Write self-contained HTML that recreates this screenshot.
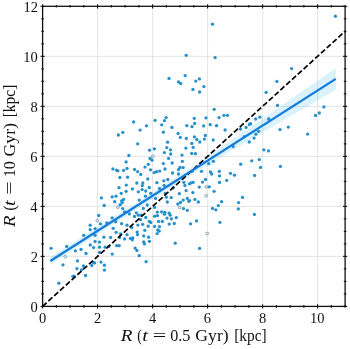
<!DOCTYPE html>
<html><head><meta charset="utf-8"><style>
html,body{margin:0;padding:0;background:#fff;}
body{width:350px;height:349px;overflow:hidden;}
svg{display:block;}
</style></head><body>
<svg width="350" height="349" viewBox="0 0 350 349">
<defs><filter id="gs" x="0" y="0" width="350" height="349" filterUnits="userSpaceOnUse"><feColorMatrix type="saturate" values="0"/></filter></defs>
<rect width="350" height="349" fill="#fff"/>
<g stroke="#bdbdbd" stroke-width="0.8" stroke-dasharray="1 1"><line x1="97.60" y1="6.3" x2="97.60" y2="306.4"/><line x1="152.60" y1="6.3" x2="152.60" y2="306.4"/><line x1="207.60" y1="6.3" x2="207.60" y2="306.4"/><line x1="262.60" y1="6.3" x2="262.60" y2="306.4"/><line x1="317.60" y1="6.3" x2="317.60" y2="306.4"/><line x1="42.6" y1="256.38" x2="345.1" y2="256.38"/><line x1="42.6" y1="206.37" x2="345.1" y2="206.37"/><line x1="42.6" y1="156.35" x2="345.1" y2="156.35"/><line x1="42.6" y1="106.33" x2="345.1" y2="106.33"/><line x1="42.6" y1="56.32" x2="345.1" y2="56.32"/></g>
<polygon points="50.3,257.0 57.4,252.5 64.6,248.0 71.7,243.5 78.8,239.0 86.0,234.5 93.1,230.0 100.3,225.5 107.4,221.0 114.5,216.4 121.7,211.9 128.8,207.4 135.9,202.9 143.1,198.3 150.2,193.8 157.4,189.2 164.5,184.7 171.6,180.1 178.8,175.5 185.9,170.8 193.1,166.1 200.2,161.4 207.3,156.6 214.5,151.8 221.6,146.9 228.7,142.0 235.9,137.2 243.0,132.3 250.1,127.4 257.3,122.4 264.4,117.5 271.6,112.6 278.7,107.6 285.8,102.7 293.0,97.8 300.1,92.8 307.2,87.8 314.4,82.9 321.5,77.9 328.7,73.0 335.8,68.0 335.8,89.8 328.7,93.9 321.5,98.1 314.4,102.2 307.2,106.4 300.1,110.5 293.0,114.7 285.8,118.8 278.7,123.0 271.6,127.2 264.4,131.3 257.3,135.5 250.1,139.7 243.0,143.9 235.9,148.1 228.7,152.3 221.6,156.6 214.5,160.8 207.3,165.1 200.2,169.4 193.1,173.8 185.9,178.2 178.8,182.6 171.6,187.1 164.5,191.6 157.4,196.2 150.2,200.7 143.1,205.3 135.9,209.9 128.8,214.4 121.7,219.0 114.5,223.6 107.4,228.2 100.3,232.8 93.1,237.4 86.0,242.0 78.8,246.6 71.7,251.2 64.6,255.8 57.4,260.4 50.3,265.0" fill="#00aae6" fill-opacity="0.15"/>
<g fill="#2590cc"><circle cx="212.5" cy="24.2" r="1.65"/><circle cx="186.2" cy="55.3" r="1.65"/><circle cx="215.1" cy="57.6" r="1.65"/><circle cx="335.4" cy="16.2" r="1.65"/><circle cx="169.0" cy="78.4" r="1.65"/><circle cx="185.2" cy="75.6" r="1.65"/><circle cx="178.5" cy="82.0" r="1.65"/><circle cx="180.7" cy="83.5" r="1.65"/><circle cx="195.8" cy="81.1" r="1.65"/><circle cx="199.4" cy="78.9" r="1.65"/><circle cx="203.9" cy="86.6" r="1.65"/><circle cx="192.9" cy="89.4" r="1.65"/><circle cx="199.6" cy="92.0" r="1.65"/><circle cx="214.2" cy="109.3" r="1.65"/><circle cx="219.0" cy="117.6" r="1.65"/><circle cx="194.3" cy="118.3" r="1.65"/><circle cx="194.7" cy="123.5" r="1.65"/><circle cx="206.0" cy="117.9" r="1.65"/><circle cx="166.1" cy="117.6" r="1.65"/><circle cx="164.4" cy="120.7" r="1.65"/><circle cx="133.6" cy="121.9" r="1.65"/><circle cx="155.1" cy="120.3" r="1.65"/><circle cx="276.9" cy="81.4" r="1.65"/><circle cx="266.1" cy="92.4" r="1.65"/><circle cx="277.5" cy="105.4" r="1.65"/><circle cx="223.9" cy="115.3" r="1.65"/><circle cx="227.4" cy="115.3" r="1.65"/><circle cx="259.9" cy="117.2" r="1.65"/><circle cx="255.7" cy="119.0" r="1.65"/><circle cx="268.7" cy="119.0" r="1.65"/><circle cx="250.6" cy="123.7" r="1.65"/><circle cx="249.4" cy="124.5" r="1.65"/><circle cx="291.6" cy="68.6" r="1.65"/><circle cx="323.9" cy="106.9" r="1.65"/><circle cx="319.3" cy="113.0" r="1.65"/><circle cx="315.5" cy="115.5" r="1.65"/><circle cx="288.3" cy="127.1" r="1.65"/><circle cx="146.5" cy="125.8" r="1.65"/><circle cx="161.7" cy="124.8" r="1.65"/><circle cx="140.1" cy="130.1" r="1.65"/><circle cx="122.8" cy="132.3" r="1.65"/><circle cx="118.4" cy="135.0" r="1.65"/><circle cx="163.4" cy="132.2" r="1.65"/><circle cx="137.7" cy="143.8" r="1.65"/><circle cx="149.6" cy="150.2" r="1.65"/><circle cx="154.4" cy="148.8" r="1.65"/><circle cx="164.4" cy="152.6" r="1.65"/><circle cx="128.9" cy="155.5" r="1.65"/><circle cx="150.1" cy="158.5" r="1.65"/><circle cx="152.0" cy="160.2" r="1.65"/><circle cx="126.1" cy="162.0" r="1.65"/><circle cx="148.3" cy="164.3" r="1.65"/><circle cx="163.4" cy="163.6" r="1.65"/><circle cx="145.0" cy="167.1" r="1.65"/><circle cx="112.9" cy="168.9" r="1.65"/><circle cx="116.6" cy="170.2" r="1.65"/><circle cx="117.9" cy="170.8" r="1.65"/><circle cx="123.6" cy="170.4" r="1.65"/><circle cx="127.0" cy="168.4" r="1.65"/><circle cx="134.6" cy="169.5" r="1.65"/><circle cx="137.7" cy="171.7" r="1.65"/><circle cx="140.8" cy="174.4" r="1.65"/><circle cx="150.5" cy="169.8" r="1.65"/><circle cx="154.2" cy="172.6" r="1.65"/><circle cx="156.6" cy="171.7" r="1.65"/><circle cx="159.7" cy="171.1" r="1.65"/><circle cx="165.0" cy="169.0" r="1.65"/><circle cx="119.9" cy="177.5" r="1.65"/><circle cx="127.6" cy="177.2" r="1.65"/><circle cx="147.8" cy="179.0" r="1.65"/><circle cx="136.8" cy="183.0" r="1.65"/><circle cx="142.8" cy="183.0" r="1.65"/><circle cx="142.3" cy="185.6" r="1.65"/><circle cx="126.3" cy="185.1" r="1.65"/><circle cx="156.9" cy="182.7" r="1.65"/><circle cx="163.8" cy="180.8" r="1.65"/><circle cx="164.1" cy="185.3" r="1.65"/><circle cx="119.0" cy="187.7" r="1.65"/><circle cx="149.2" cy="187.5" r="1.65"/><circle cx="171.9" cy="127.4" r="1.65"/><circle cx="186.8" cy="125.7" r="1.65"/><circle cx="192.0" cy="126.7" r="1.65"/><circle cx="178.1" cy="133.5" r="1.65"/><circle cx="180.3" cy="137.4" r="1.65"/><circle cx="186.3" cy="138.4" r="1.65"/><circle cx="167.6" cy="142.2" r="1.65"/><circle cx="166.8" cy="147.6" r="1.65"/><circle cx="170.5" cy="149.8" r="1.65"/><circle cx="185.9" cy="148.1" r="1.65"/><circle cx="170.7" cy="154.0" r="1.65"/><circle cx="182.0" cy="155.1" r="1.65"/><circle cx="191.7" cy="153.4" r="1.65"/><circle cx="203.7" cy="125.9" r="1.65"/><circle cx="210.2" cy="124.7" r="1.65"/><circle cx="216.5" cy="125.7" r="1.65"/><circle cx="194.4" cy="136.8" r="1.65"/><circle cx="196.8" cy="139.5" r="1.65"/><circle cx="199.8" cy="142.0" r="1.65"/><circle cx="205.4" cy="135.5" r="1.65"/><circle cx="204.4" cy="139.1" r="1.65"/><circle cx="213.2" cy="140.0" r="1.65"/><circle cx="191.8" cy="143.4" r="1.65"/><circle cx="193.1" cy="147.3" r="1.65"/><circle cx="195.4" cy="153.7" r="1.65"/><circle cx="168.6" cy="158.4" r="1.65"/><circle cx="182.4" cy="161.3" r="1.65"/><circle cx="172.2" cy="163.0" r="1.65"/><circle cx="178.5" cy="169.6" r="1.65"/><circle cx="180.0" cy="167.5" r="1.65"/><circle cx="183.2" cy="167.6" r="1.65"/><circle cx="172.5" cy="173.0" r="1.65"/><circle cx="178.5" cy="174.0" r="1.65"/><circle cx="167.8" cy="179.5" r="1.65"/><circle cx="183.9" cy="182.3" r="1.65"/><circle cx="184.9" cy="185.4" r="1.65"/><circle cx="189.4" cy="183.8" r="1.65"/><circle cx="191.2" cy="182.8" r="1.65"/><circle cx="193.2" cy="182.3" r="1.65"/><circle cx="213.4" cy="161.3" r="1.65"/><circle cx="208.7" cy="163.7" r="1.65"/><circle cx="201.5" cy="171.3" r="1.65"/><circle cx="210.5" cy="172.0" r="1.65"/><circle cx="211.7" cy="174.0" r="1.65"/><circle cx="219.3" cy="171.3" r="1.65"/><circle cx="219.5" cy="175.9" r="1.65"/><circle cx="205.6" cy="179.5" r="1.65"/><circle cx="202.5" cy="182.1" r="1.65"/><circle cx="219.5" cy="182.5" r="1.65"/><circle cx="199.3" cy="187.1" r="1.65"/><circle cx="209.2" cy="186.8" r="1.65"/><circle cx="192.0" cy="171.3" r="1.65"/><circle cx="225.1" cy="130.0" r="1.65"/><circle cx="240.5" cy="129.0" r="1.65"/><circle cx="246.1" cy="127.4" r="1.65"/><circle cx="249.3" cy="142.0" r="1.65"/><circle cx="254.1" cy="138.1" r="1.65"/><circle cx="233.2" cy="146.6" r="1.65"/><circle cx="244.4" cy="136.6" r="1.65"/><circle cx="258.6" cy="131.3" r="1.65"/><circle cx="255.9" cy="134.2" r="1.65"/><circle cx="280.0" cy="129.6" r="1.65"/><circle cx="263.9" cy="149.8" r="1.65"/><circle cx="268.5" cy="150.9" r="1.65"/><circle cx="307.6" cy="134.1" r="1.65"/><circle cx="251.7" cy="160.8" r="1.65"/><circle cx="240.7" cy="164.2" r="1.65"/><circle cx="230.5" cy="173.3" r="1.65"/><circle cx="234.5" cy="175.2" r="1.65"/><circle cx="226.7" cy="180.3" r="1.65"/><circle cx="254.6" cy="175.4" r="1.65"/><circle cx="259.3" cy="159.6" r="1.65"/><circle cx="260.5" cy="167.4" r="1.65"/><circle cx="280.4" cy="166.4" r="1.65"/><circle cx="66.7" cy="246.4" r="1.65"/><circle cx="101.4" cy="197.9" r="1.65"/><circle cx="112.2" cy="196.8" r="1.65"/><circle cx="104.2" cy="205.5" r="1.65"/><circle cx="98.7" cy="215.5" r="1.65"/><circle cx="90.2" cy="225.2" r="1.65"/><circle cx="100.5" cy="223.8" r="1.65"/><circle cx="112.1" cy="217.8" r="1.65"/><circle cx="106.8" cy="222.8" r="1.65"/><circle cx="90.2" cy="229.6" r="1.65"/><circle cx="95.1" cy="228.7" r="1.65"/><circle cx="113.2" cy="228.3" r="1.65"/><circle cx="83.7" cy="235.3" r="1.65"/><circle cx="95.1" cy="235.3" r="1.65"/><circle cx="103.9" cy="237.2" r="1.65"/><circle cx="110.6" cy="237.4" r="1.65"/><circle cx="95.1" cy="241.4" r="1.65"/><circle cx="99.5" cy="242.1" r="1.65"/><circle cx="90.2" cy="245.0" r="1.65"/><circle cx="93.6" cy="247.6" r="1.65"/><circle cx="99.5" cy="247.2" r="1.65"/><circle cx="105.1" cy="247.2" r="1.65"/><circle cx="108.7" cy="246.6" r="1.65"/><circle cx="81.0" cy="249.4" r="1.65"/><circle cx="99.5" cy="252.3" r="1.65"/><circle cx="86.0" cy="253.5" r="1.65"/><circle cx="112.2" cy="254.1" r="1.65"/><circle cx="132.4" cy="188.9" r="1.65"/><circle cx="142.1" cy="189.6" r="1.65"/><circle cx="126.1" cy="191.3" r="1.65"/><circle cx="121.2" cy="193.3" r="1.65"/><circle cx="138.3" cy="191.8" r="1.65"/><circle cx="116.0" cy="196.2" r="1.65"/><circle cx="123.6" cy="199.4" r="1.65"/><circle cx="121.7" cy="200.8" r="1.65"/><circle cx="114.7" cy="201.7" r="1.65"/><circle cx="122.2" cy="202.5" r="1.65"/><circle cx="139.2" cy="200.1" r="1.65"/><circle cx="120.2" cy="204.7" r="1.65"/><circle cx="122.7" cy="208.6" r="1.65"/><circle cx="129.4" cy="213.9" r="1.65"/><circle cx="124.6" cy="211.8" r="1.65"/><circle cx="136.3" cy="212.8" r="1.65"/><circle cx="138.3" cy="215.2" r="1.65"/><circle cx="143.3" cy="208.4" r="1.65"/><circle cx="145.7" cy="191.0" r="1.65"/><circle cx="150.7" cy="193.3" r="1.65"/><circle cx="159.5" cy="188.4" r="1.65"/><circle cx="145.4" cy="196.2" r="1.65"/><circle cx="155.6" cy="198.4" r="1.65"/><circle cx="165.3" cy="193.3" r="1.65"/><circle cx="166.3" cy="197.2" r="1.65"/><circle cx="171.2" cy="197.6" r="1.65"/><circle cx="167.3" cy="202.0" r="1.65"/><circle cx="147.3" cy="205.0" r="1.65"/><circle cx="154.6" cy="207.4" r="1.65"/><circle cx="157.3" cy="212.1" r="1.65"/><circle cx="161.6" cy="211.8" r="1.65"/><circle cx="164.9" cy="212.3" r="1.65"/><circle cx="164.4" cy="214.2" r="1.65"/><circle cx="169.2" cy="213.2" r="1.65"/><circle cx="170.2" cy="215.2" r="1.65"/><circle cx="157.5" cy="215.7" r="1.65"/><circle cx="154.6" cy="216.2" r="1.65"/><circle cx="141.0" cy="215.2" r="1.65"/><circle cx="145.8" cy="217.5" r="1.65"/><circle cx="173.1" cy="187.9" r="1.65"/><circle cx="186.1" cy="190.6" r="1.65"/><circle cx="192.9" cy="192.6" r="1.65"/><circle cx="179.3" cy="193.7" r="1.65"/><circle cx="187.3" cy="198.4" r="1.65"/><circle cx="189.5" cy="200.6" r="1.65"/><circle cx="188.8" cy="201.3" r="1.65"/><circle cx="194.9" cy="199.4" r="1.65"/><circle cx="198.3" cy="202.0" r="1.65"/><circle cx="183.2" cy="200.1" r="1.65"/><circle cx="180.5" cy="202.5" r="1.65"/><circle cx="177.8" cy="204.0" r="1.65"/><circle cx="183.5" cy="208.6" r="1.65"/><circle cx="187.3" cy="210.3" r="1.65"/><circle cx="176.3" cy="217.6" r="1.65"/><circle cx="214.1" cy="191.3" r="1.65"/><circle cx="221.6" cy="201.7" r="1.65"/><circle cx="218.3" cy="205.6" r="1.65"/><circle cx="212.5" cy="208.4" r="1.65"/><circle cx="215.8" cy="209.8" r="1.65"/><circle cx="242.5" cy="197.4" r="1.65"/><circle cx="238.6" cy="202.6" r="1.65"/><circle cx="238.3" cy="208.9" r="1.65"/><circle cx="254.4" cy="214.4" r="1.65"/><circle cx="171.4" cy="218.8" r="1.65"/><circle cx="174.3" cy="223.5" r="1.65"/><circle cx="190.6" cy="223.8" r="1.65"/><circle cx="196.6" cy="220.9" r="1.65"/><circle cx="219.9" cy="222.3" r="1.65"/><circle cx="175.2" cy="243.2" r="1.65"/><circle cx="199.6" cy="248.4" r="1.65"/><circle cx="167.0" cy="218.1" r="1.65"/><circle cx="140.6" cy="219.7" r="1.65"/><circle cx="149.4" cy="221.4" r="1.65"/><circle cx="150.8" cy="222.5" r="1.65"/><circle cx="158.5" cy="221.4" r="1.65"/><circle cx="162.3" cy="221.4" r="1.65"/><circle cx="169.2" cy="224.1" r="1.65"/><circle cx="137.9" cy="225.1" r="1.65"/><circle cx="142.7" cy="224.3" r="1.65"/><circle cx="148.2" cy="226.2" r="1.65"/><circle cx="154.6" cy="226.4" r="1.65"/><circle cx="159.5" cy="226.6" r="1.65"/><circle cx="144.8" cy="230.3" r="1.65"/><circle cx="157.7" cy="230.0" r="1.65"/><circle cx="159.2" cy="231.0" r="1.65"/><circle cx="157.2" cy="233.6" r="1.65"/><circle cx="137.2" cy="232.1" r="1.65"/><circle cx="137.5" cy="234.6" r="1.65"/><circle cx="143.7" cy="235.9" r="1.65"/><circle cx="148.6" cy="237.2" r="1.65"/><circle cx="149.4" cy="241.3" r="1.65"/><circle cx="143.7" cy="241.9" r="1.65"/><circle cx="144.5" cy="243.9" r="1.65"/><circle cx="115.7" cy="221.8" r="1.65"/><circle cx="121.6" cy="223.7" r="1.65"/><circle cx="127.0" cy="225.2" r="1.65"/><circle cx="131.8" cy="227.6" r="1.65"/><circle cx="116.2" cy="232.3" r="1.65"/><circle cx="120.6" cy="234.0" r="1.65"/><circle cx="127.0" cy="234.7" r="1.65"/><circle cx="119.6" cy="237.4" r="1.65"/><circle cx="124.5" cy="238.9" r="1.65"/><circle cx="130.4" cy="238.4" r="1.65"/><circle cx="132.8" cy="237.9" r="1.65"/><circle cx="132.3" cy="239.8" r="1.65"/><circle cx="116.7" cy="245.7" r="1.65"/><circle cx="119.2" cy="245.7" r="1.65"/><circle cx="135.1" cy="248.1" r="1.65"/><circle cx="134.5" cy="216.5" r="1.65"/><circle cx="136.9" cy="250.5" r="1.65"/><circle cx="139.2" cy="255.7" r="1.65"/><circle cx="146.1" cy="261.7" r="1.65"/><circle cx="51.1" cy="248.3" r="1.65"/><circle cx="75.4" cy="250.8" r="1.65"/><circle cx="77.5" cy="260.9" r="1.65"/><circle cx="83.5" cy="266.0" r="1.65"/><circle cx="76.9" cy="268.6" r="1.65"/><circle cx="81.5" cy="269.8" r="1.65"/><circle cx="92.9" cy="262.3" r="1.65"/><circle cx="94.6" cy="262.9" r="1.65"/><circle cx="91.8" cy="265.5" r="1.65"/><circle cx="101.0" cy="262.1" r="1.65"/><circle cx="104.4" cy="265.2" r="1.65"/><circle cx="104.4" cy="270.1" r="1.65"/><circle cx="85.5" cy="275.5" r="1.65"/><circle cx="72.9" cy="276.3" r="1.65"/><circle cx="74.2" cy="276.1" r="1.65"/><circle cx="58.8" cy="283.2" r="1.65"/><circle cx="63.0" cy="264.9" r="1.65"/></g>
<g fill="#e2ebf0" stroke="#7e9fb6" stroke-width="0.9"><circle cx="97.3" cy="220.6" r="1.35"/><circle cx="152.8" cy="156.2" r="1.35"/><circle cx="207.2" cy="233.5" r="1.35"/><circle cx="65.3" cy="256.7" r="1.35"/><circle cx="206.3" cy="186.9" r="1.35"/><circle cx="206.3" cy="195.7" r="1.35"/><circle cx="179.7" cy="207.4" r="1.35"/><circle cx="117.9" cy="207.2" r="1.35"/></g>
<line x1="42.6" y1="306.4" x2="345.1" y2="31.31" stroke="#000" stroke-width="1.7" stroke-dasharray="5.42 2.42"/>
<line x1="50.3" y1="261.0" x2="335.8" y2="78.9" stroke="#157bd8" stroke-width="2.3" stroke-linecap="butt"/>
<rect x="42.6" y="6.3" width="302.50" height="300.10" fill="none" stroke="#111" stroke-width="1.3"/>
<g stroke="#111" stroke-width="1.1"><line x1="42.60" y1="304.29999999999995" x2="42.60" y2="308.5"/><line x1="42.60" y1="4.199999999999999" x2="42.60" y2="8.4"/><line x1="56.35" y1="305.09999999999997" x2="56.35" y2="307.7"/><line x1="56.35" y1="5.0" x2="56.35" y2="7.6"/><line x1="70.10" y1="305.09999999999997" x2="70.10" y2="307.7"/><line x1="70.10" y1="5.0" x2="70.10" y2="7.6"/><line x1="83.85" y1="305.09999999999997" x2="83.85" y2="307.7"/><line x1="83.85" y1="5.0" x2="83.85" y2="7.6"/><line x1="97.60" y1="304.29999999999995" x2="97.60" y2="308.5"/><line x1="97.60" y1="4.199999999999999" x2="97.60" y2="8.4"/><line x1="111.35" y1="305.09999999999997" x2="111.35" y2="307.7"/><line x1="111.35" y1="5.0" x2="111.35" y2="7.6"/><line x1="125.10" y1="305.09999999999997" x2="125.10" y2="307.7"/><line x1="125.10" y1="5.0" x2="125.10" y2="7.6"/><line x1="138.85" y1="305.09999999999997" x2="138.85" y2="307.7"/><line x1="138.85" y1="5.0" x2="138.85" y2="7.6"/><line x1="152.60" y1="304.29999999999995" x2="152.60" y2="308.5"/><line x1="152.60" y1="4.199999999999999" x2="152.60" y2="8.4"/><line x1="166.35" y1="305.09999999999997" x2="166.35" y2="307.7"/><line x1="166.35" y1="5.0" x2="166.35" y2="7.6"/><line x1="180.10" y1="305.09999999999997" x2="180.10" y2="307.7"/><line x1="180.10" y1="5.0" x2="180.10" y2="7.6"/><line x1="193.85" y1="305.09999999999997" x2="193.85" y2="307.7"/><line x1="193.85" y1="5.0" x2="193.85" y2="7.6"/><line x1="207.60" y1="304.29999999999995" x2="207.60" y2="308.5"/><line x1="207.60" y1="4.199999999999999" x2="207.60" y2="8.4"/><line x1="221.35" y1="305.09999999999997" x2="221.35" y2="307.7"/><line x1="221.35" y1="5.0" x2="221.35" y2="7.6"/><line x1="235.10" y1="305.09999999999997" x2="235.10" y2="307.7"/><line x1="235.10" y1="5.0" x2="235.10" y2="7.6"/><line x1="248.85" y1="305.09999999999997" x2="248.85" y2="307.7"/><line x1="248.85" y1="5.0" x2="248.85" y2="7.6"/><line x1="262.60" y1="304.29999999999995" x2="262.60" y2="308.5"/><line x1="262.60" y1="4.199999999999999" x2="262.60" y2="8.4"/><line x1="276.35" y1="305.09999999999997" x2="276.35" y2="307.7"/><line x1="276.35" y1="5.0" x2="276.35" y2="7.6"/><line x1="290.10" y1="305.09999999999997" x2="290.10" y2="307.7"/><line x1="290.10" y1="5.0" x2="290.10" y2="7.6"/><line x1="303.85" y1="305.09999999999997" x2="303.85" y2="307.7"/><line x1="303.85" y1="5.0" x2="303.85" y2="7.6"/><line x1="317.60" y1="304.29999999999995" x2="317.60" y2="308.5"/><line x1="317.60" y1="4.199999999999999" x2="317.60" y2="8.4"/><line x1="331.35" y1="305.09999999999997" x2="331.35" y2="307.7"/><line x1="331.35" y1="5.0" x2="331.35" y2="7.6"/><line x1="345.10" y1="305.09999999999997" x2="345.10" y2="307.7"/><line x1="345.10" y1="5.0" x2="345.10" y2="7.6"/><line x1="40.5" y1="306.40" x2="44.7" y2="306.40"/><line x1="343.0" y1="306.40" x2="347.20000000000005" y2="306.40"/><line x1="41.300000000000004" y1="293.90" x2="43.9" y2="293.90"/><line x1="343.8" y1="293.90" x2="346.40000000000003" y2="293.90"/><line x1="41.300000000000004" y1="281.39" x2="43.9" y2="281.39"/><line x1="343.8" y1="281.39" x2="346.40000000000003" y2="281.39"/><line x1="41.300000000000004" y1="268.89" x2="43.9" y2="268.89"/><line x1="343.8" y1="268.89" x2="346.40000000000003" y2="268.89"/><line x1="40.5" y1="256.38" x2="44.7" y2="256.38"/><line x1="343.0" y1="256.38" x2="347.20000000000005" y2="256.38"/><line x1="41.300000000000004" y1="243.88" x2="43.9" y2="243.88"/><line x1="343.8" y1="243.88" x2="346.40000000000003" y2="243.88"/><line x1="41.300000000000004" y1="231.38" x2="43.9" y2="231.38"/><line x1="343.8" y1="231.38" x2="346.40000000000003" y2="231.38"/><line x1="41.300000000000004" y1="218.87" x2="43.9" y2="218.87"/><line x1="343.8" y1="218.87" x2="346.40000000000003" y2="218.87"/><line x1="40.5" y1="206.37" x2="44.7" y2="206.37"/><line x1="343.0" y1="206.37" x2="347.20000000000005" y2="206.37"/><line x1="41.300000000000004" y1="193.86" x2="43.9" y2="193.86"/><line x1="343.8" y1="193.86" x2="346.40000000000003" y2="193.86"/><line x1="41.300000000000004" y1="181.36" x2="43.9" y2="181.36"/><line x1="343.8" y1="181.36" x2="346.40000000000003" y2="181.36"/><line x1="41.300000000000004" y1="168.85" x2="43.9" y2="168.85"/><line x1="343.8" y1="168.85" x2="346.40000000000003" y2="168.85"/><line x1="40.5" y1="156.35" x2="44.7" y2="156.35"/><line x1="343.0" y1="156.35" x2="347.20000000000005" y2="156.35"/><line x1="41.300000000000004" y1="143.85" x2="43.9" y2="143.85"/><line x1="343.8" y1="143.85" x2="346.40000000000003" y2="143.85"/><line x1="41.300000000000004" y1="131.34" x2="43.9" y2="131.34"/><line x1="343.8" y1="131.34" x2="346.40000000000003" y2="131.34"/><line x1="41.300000000000004" y1="118.84" x2="43.9" y2="118.84"/><line x1="343.8" y1="118.84" x2="346.40000000000003" y2="118.84"/><line x1="40.5" y1="106.33" x2="44.7" y2="106.33"/><line x1="343.0" y1="106.33" x2="347.20000000000005" y2="106.33"/><line x1="41.300000000000004" y1="93.83" x2="43.9" y2="93.83"/><line x1="343.8" y1="93.83" x2="346.40000000000003" y2="93.83"/><line x1="41.300000000000004" y1="81.33" x2="43.9" y2="81.33"/><line x1="343.8" y1="81.33" x2="346.40000000000003" y2="81.33"/><line x1="41.300000000000004" y1="68.82" x2="43.9" y2="68.82"/><line x1="343.8" y1="68.82" x2="346.40000000000003" y2="68.82"/><line x1="40.5" y1="56.32" x2="44.7" y2="56.32"/><line x1="343.0" y1="56.32" x2="347.20000000000005" y2="56.32"/><line x1="41.300000000000004" y1="43.81" x2="43.9" y2="43.81"/><line x1="343.8" y1="43.81" x2="346.40000000000003" y2="43.81"/><line x1="41.300000000000004" y1="31.31" x2="43.9" y2="31.31"/><line x1="343.8" y1="31.31" x2="346.40000000000003" y2="31.31"/><line x1="41.300000000000004" y1="18.80" x2="43.9" y2="18.80"/><line x1="343.8" y1="18.80" x2="346.40000000000003" y2="18.80"/><line x1="40.5" y1="6.30" x2="44.7" y2="6.30"/><line x1="343.0" y1="6.30" x2="347.20000000000005" y2="6.30"/></g>
<g font-family="Liberation Serif, serif" font-size="14.5" fill="#111" filter="url(#gs)"><text x="38.98" y="322.7">0</text><text x="94.10" y="322.7">2</text><text x="148.97" y="322.7">4</text><text x="203.85" y="322.7">6</text><text x="258.98" y="322.7">8</text><text x="309.98" y="322.7">10</text><text x="30.55" y="312.30">0</text><text x="30.80" y="262.28">2</text><text x="30.30" y="212.27">4</text><text x="30.30" y="162.25">6</text><text x="30.55" y="112.23">8</text><text x="23.30" y="62.22">10</text><text x="23.55" y="12.20">12</text></g>
<g font-family="Liberation Serif, serif" font-size="16" fill="#111" filter="url(#gs)"><text transform="translate(126.25,341) scale(1.200,1)" x="-4.625" font-style="italic">R</text><text transform="translate(139.85,341) scale(0.871,1)" x="-2.875">(</text><text transform="translate(145.70,341) scale(1.300,1)" x="-2.750" font-style="italic">t</text><text transform="translate(159.50,341) scale(1.493,1)" x="-4.500">=</text><text transform="translate(180.30,341) scale(1.011,1)" x="-10.000">0.5</text><text transform="translate(211.90,341) scale(1.103,1)" x="-15.000">Gyr)</text><text transform="translate(250.40,341) scale(0.964,1)" x="-16.875">[kpc]</text><text transform="translate(15,221.45) rotate(-90) scale(1.179,1)" x="-4.625" font-style="italic">R</text><text transform="translate(15,207.75) rotate(-90) scale(1.059,1)" x="-2.875">(</text><text transform="translate(15,202.60) rotate(-90) scale(1.250,1)" x="-2.750" font-style="italic">t</text><text transform="translate(15,188.05) rotate(-90) scale(1.480,1)" x="-4.500">=</text><text transform="translate(15,168.80) rotate(-90) scale(1.025,1)" x="-8.375">10</text><text transform="translate(15,139.90) rotate(-90) scale(1.110,1)" x="-15.000">Gyr)</text><text transform="translate(15,100.95) rotate(-90) scale(0.973,1)" x="-16.875">[kpc]</text></g>
</svg>
</body></html>
